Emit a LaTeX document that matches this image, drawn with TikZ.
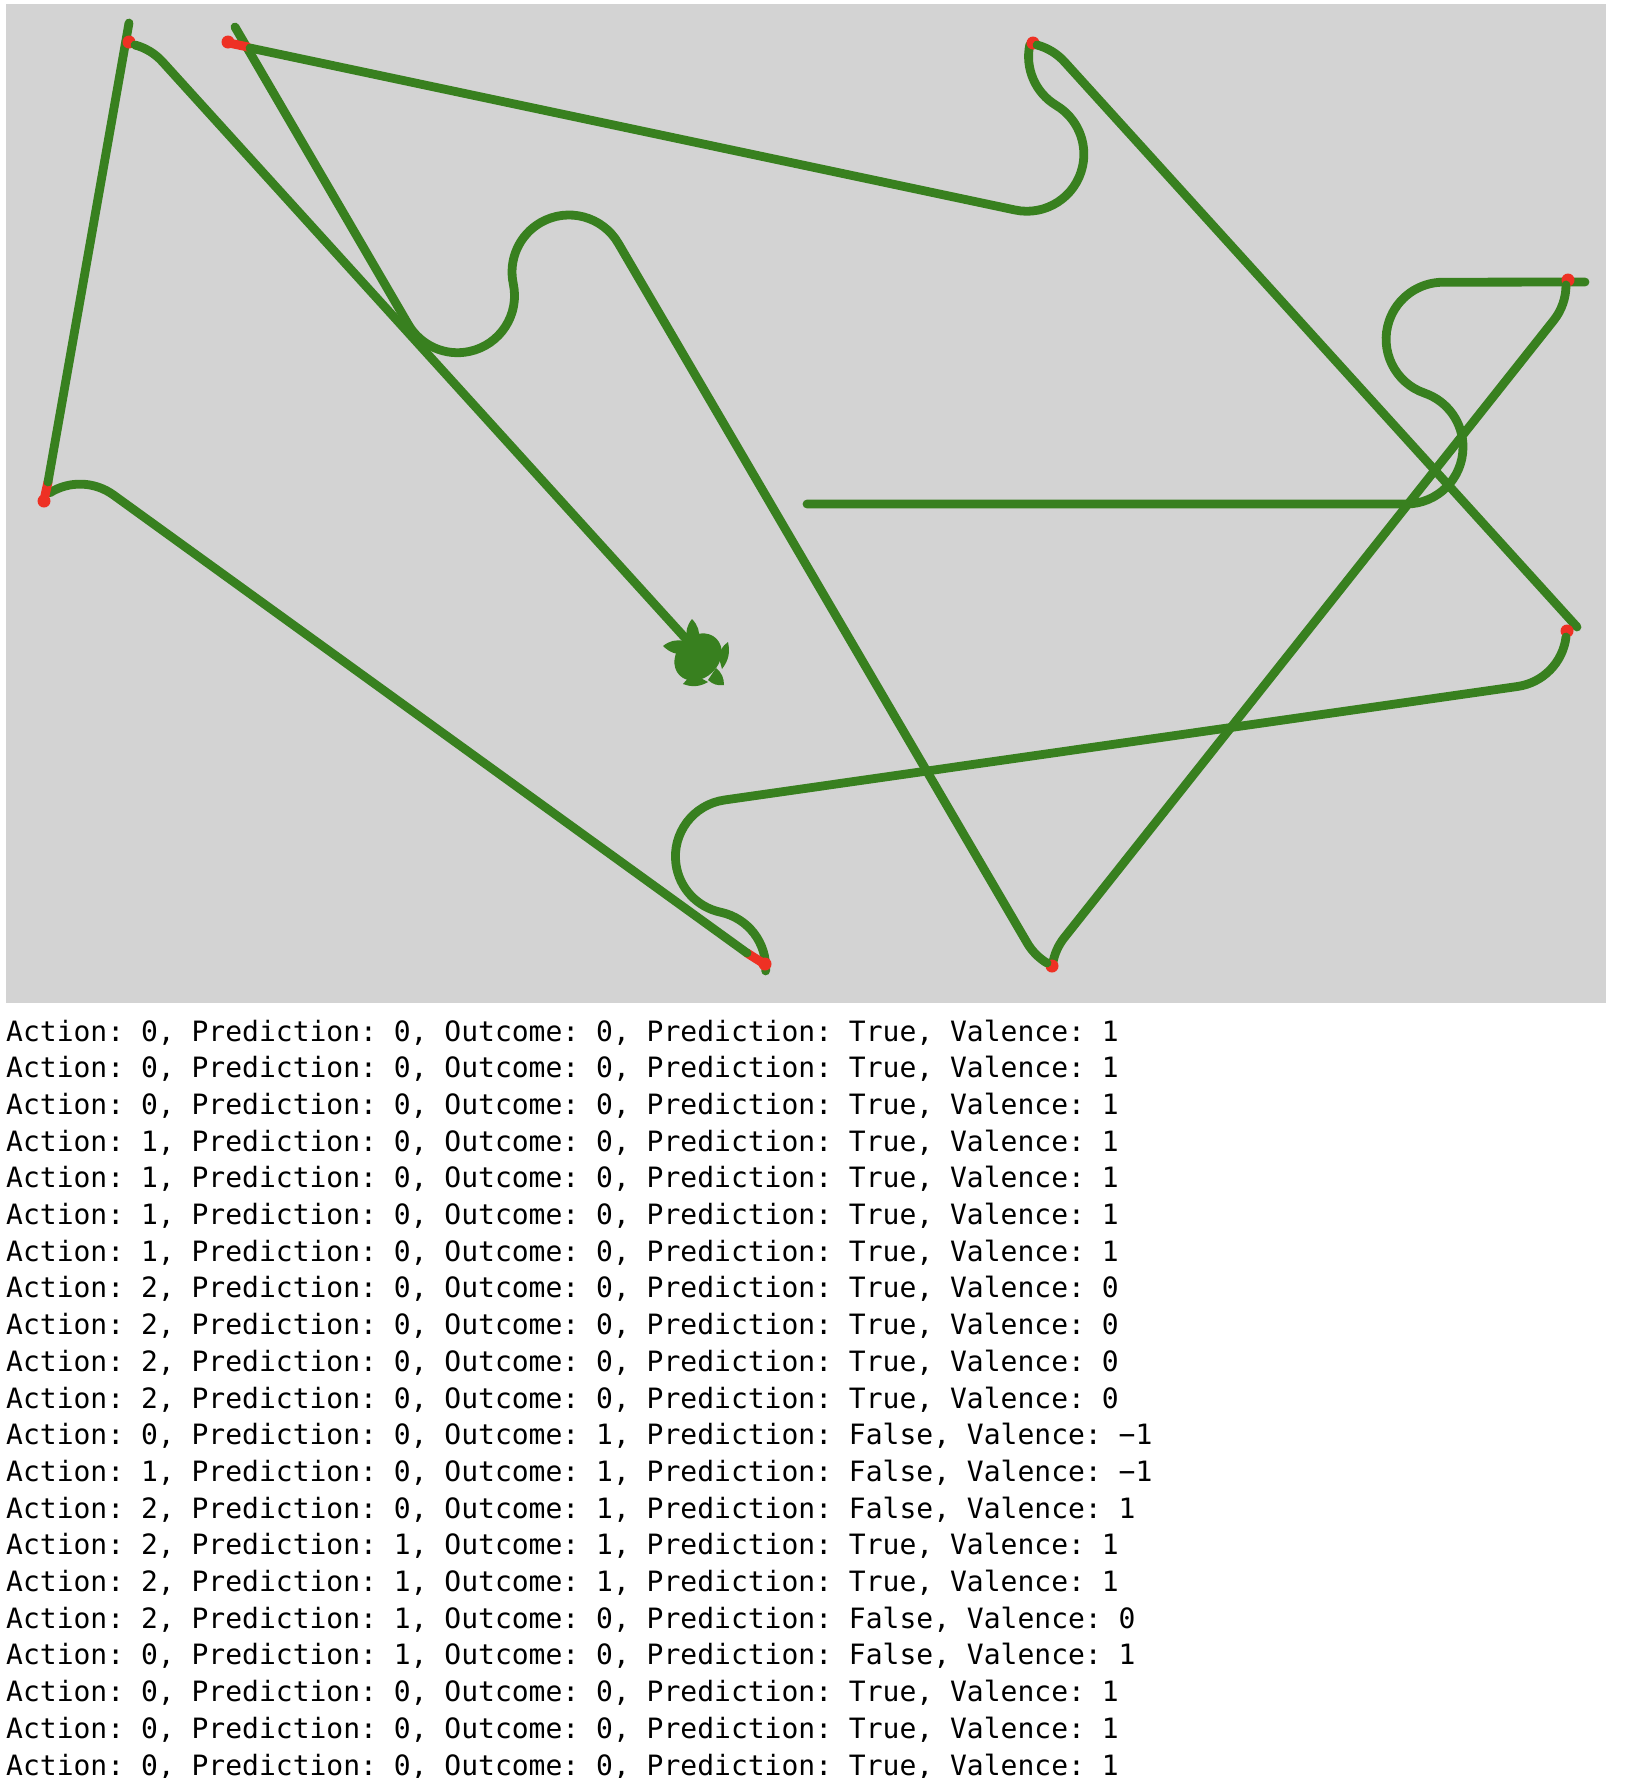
\documentclass[tikz,border=0pt]{standalone}
\usepackage{fontspec}
\setmonofont{DejaVu Sans Mono}
\definecolor{canvasgray}{HTML}{D3D3D3}
\definecolor{turtlegreen}{HTML}{38801F}
\definecolor{bumpred}{HTML}{EE3124}
\begin{document}
\begin{tikzpicture}[x=1pt,y=-1pt,
  trail/.style={draw=turtlegreen,line width=8.8pt,line cap=round,line join=round},
  bump/.style={draw=bumpred,line width=9pt,line cap=round},
  blob/.style={fill=bumpred},
  logline/.style={anchor=base west,inner sep=0pt,font=\fontsize{28}{36}\selectfont\ttfamily}]
\useasboundingbox (0,0) rectangle (1644,1778);
\fill[canvasgray] (6,4) rectangle (1606,1003);
\draw[trail] (807,504) -- (1406,504) arc[start angle=90,end angle=-71,radius=57] arc[start angle=109,end angle=270,radius=57] -- (1585,282);
\fill[blob] (1568,280) circle[radius=6.5];
\draw[trail] (1566,285) arc[start angle=0,end angle=38,radius=57] -- (1064,938) arc[start angle=218,end angle=190,radius=57];
\fill[blob] (1052,966) circle[radius=6.5];
\draw[trail] (1047,963) arc[start angle=121,end angle=150,radius=57] -- (618.4,243.5) arc[start angle=-30,end angle=-192,radius=57] arc[start angle=-12,end angle=150,radius=57] -- (235,27);
\draw[bump] (248,47) -- (229,43);
\fill[blob] (228,42) circle[radius=6.5];
\draw[trail] (250,48) -- (1015,210) arc[start angle=102,end angle=-59,radius=57] arc[start angle=121,end angle=192,radius=57];
\fill[blob] (1033,43) circle[radius=6.5];
\draw[trail] (1037,45) arc[start angle=-75,end angle=-42,radius=57] -- (1577,627);
\fill[blob] (1567,631) circle[radius=6.5];
\draw[trail] (1566,637) arc[start angle=7,end angle=82,radius=57] -- (724.5,800) arc[start angle=262,end angle=102,radius=57] arc[start angle=-78,end angle=3,radius=57];
\draw[bump] (766,965) -- (747,953);
\fill[blob] (765,964) circle[radius=6.5];
\draw[trail] (747,953) -- (113.5,495) arc[start angle=306,end angle=238,radius=57];
\draw[bump] (44,500) -- (48,482);
\fill[blob] (44,501) circle[radius=6.5];
\draw[trail] (48,482) -- (129,23);
\fill[blob] (129,42) circle[radius=6.5];
\draw[trail] (135,45) arc[start angle=-75,end angle=-42,radius=57] -- (687,640);
\fill[turtlegreen,rotate around={45:(698,657)}] (698,657) ellipse[x radius=26,y radius=21];
\foreach \a/\t/\b in {{687,640}/{692,619}/{699,640},{719,658}/{728,642}/{722,669},{716,668}/{724,685}/{708,680},{708,682}/{683,684}/{697,676},{686,654}/{663,646}/{684,641}}
  \fill[turtlegreen] (\a) to[bend left=25] (\t) to[bend left=25] (\b) -- cycle;
\foreach \act/\pre/\out/\res/\val [count=\i from 0] in {
  0/0/0/True/1,0/0/0/True/1,0/0/0/True/1,1/0/0/True/1,1/0/0/True/1,1/0/0/True/1,1/0/0/True/1,
  2/0/0/True/0,2/0/0/True/0,2/0/0/True/0,2/0/0/True/0,0/0/1/False/−1,1/0/1/False/−1,2/0/1/False/1,
  2/1/1/True/1,2/1/1/True/1,2/1/0/False/0,0/1/0/False/1,0/0/0/True/1,0/0/0/True/1,0/0/0/True/1}
  \node[logline] (log\i) at (6,1041+36.7*\i) {Action: \act, Prediction: \pre, Outcome: \out, Prediction: \res, Valence: \val};
\end{tikzpicture}
\end{document}
